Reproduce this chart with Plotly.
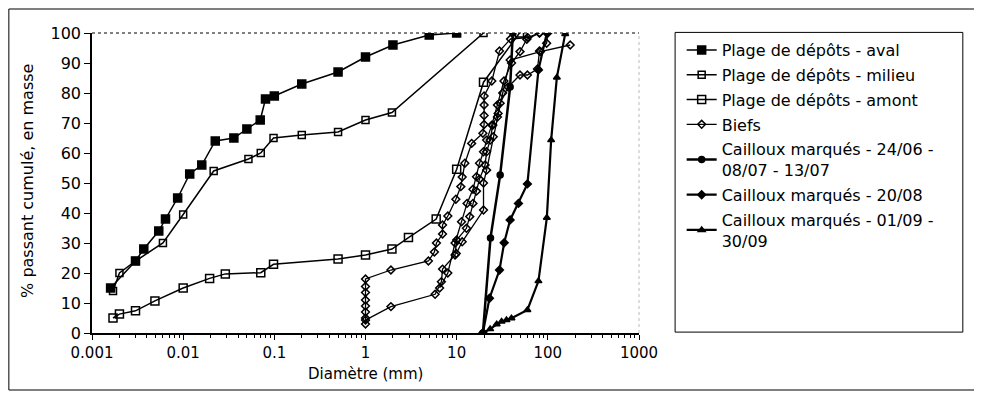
import plotly.graph_objects as go

# granulométrie - plage de dépôts
aval_x = [0.0016, 0.003, 0.0037, 0.0054, 0.0064, 0.0087, 0.0118, 0.016, 0.0225, 0.036,
          0.05, 0.07, 0.08, 0.1, 0.2, 0.5, 1, 2, 5, 10]
aval_y = [15, 24, 28, 34, 38, 45, 53, 56, 64, 65, 68, 71, 78, 79, 83, 87, 92, 96, 99.3, 100]

milieu_x = [0.0017, 0.002, 0.003, 0.006, 0.01, 0.0216, 0.052, 0.071, 0.098, 0.2, 0.5, 1, 1.95, 19.7]
milieu_y = [14, 20, 24, 30, 39.5, 54, 58, 60, 65, 66, 67, 71, 73.5, 100]

amont_x = [0.0017, 0.002, 0.003, 0.0049, 0.01, 0.0195, 0.029, 0.071, 0.098, 0.5, 1, 1.95,
           2.96, 5.96, 10, 19.7, 48.9]
amont_y = [5, 6.3, 7.4, 10.7, 15, 18.2, 19.7, 20.1, 22.9, 24.7, 26, 28, 31.8, 38, 54.6, 83.6, 100]

# biefs : plusieurs échantillons dans une seule série
biefs1_x = [1, 1, 1, 1, 1, 1, 1, 1, 1.9, 4.9, 5.7, 6, 7, 7, 8, 9.8, 11.1, 11.5, 12.3, 14.6,
            19.4, 20, 20, 20, 20, 24.3, 29.5, 39, 60, 81]
biefs1_y = [3, 5, 7, 9, 11, 13.5, 15.5, 18, 21, 24, 27, 30, 33, 36, 39, 44.6, 48.8, 52, 56.6, 63.2,
            66.6, 69.5, 72.5, 76, 79, 84, 94, 98, 98.5, 100]
biefs2_x = [1, 1.9, 5.8, 6.8, 7, 9.6, 10, 12.8, 13.9, 15.1, 16.5, 17.8, 20.5, 21.3, 23.3, 24.9,
            28.5, 30, 36.7, 49.5, 59.7, 77, 81, 97, 100]
biefs2_y = [4.3, 8.8, 12.9, 17.1, 21.3, 26, 31, 34.9, 38.8, 43.2, 47.3, 51.3, 56, 60.4, 64.3, 69.3,
            73.2, 76.6, 82, 86, 86, 88, 94, 96.6, 100]
biefs3_x = [9.9, 11.5, 19.7, 19.7, 21.3, 25.2, 28, 32, 38.6, 82.8, 176]
biefs3_y = [26.5, 30.4, 41, 50, 54.3, 65.4, 72, 80, 91, 93.8, 96]
biefs4_x = [6.5, 8, 9.6, 11.3, 13, 15.1, 16.5, 17.8, 19.7, 21.3, 24.3, 28, 33, 40, 49.5, 58.8, 81]
biefs4_y = [15, 20, 30, 37.1, 43.2, 47.9, 52.1, 56.6, 60.4, 64.3, 69.3, 76, 84, 90, 93.8, 97.9, 100]

# cailloux marqués
c1_x = [19.4, 23.5, 30, 38.6, 41.3]
c1_y = [0, 31.7, 52.7, 82, 100]
c2_x = [19.4, 22.9, 29.5, 33.2, 38.6, 47.6, 59.7, 78.9, 97.5]
c2_y = [0, 11.6, 21, 30.1, 37.7, 43.2, 49.7, 87.7, 100]
c3_x = [19.4, 23.3, 27.5, 31.1, 35.2, 39.9, 59.7, 78.9, 97.5, 108.7, 125.6, 155]
c3_y = [0, 1.3, 2.9, 3.8, 4.3, 4.9, 7.7, 17.3, 38.4, 64.3, 85.2, 99.7]

x_ticks = [0.001, 0.01, 0.1, 1, 10, 100, 1000]
x_ticktext = ["0.001", "0.01", "0.1", "1", "10", "100", "1000"]

biefs_x = biefs1_x + [None] + biefs2_x + [None] + biefs3_x + [None] + biefs4_x
biefs_y = biefs1_y + [None] + biefs2_y + [None] + biefs3_y + [None] + biefs4_y

FONT = "DejaVu Sans, Arial, sans-serif"

series = [
    ("Plage de dépôts - aval", aval_x, aval_y, "square", 8, 1.5),
    ("Plage de dépôts - milieu", milieu_x, milieu_y, "square-open", 7, 1.5),
    ("Plage de dépôts - amont", amont_x, amont_y, "square-open", 8, 1.5),
    ("Biefs", biefs_x, biefs_y, "diamond-open", 6, 1.3),
    ("Cailloux marqués - 24/06 -<br>08/07 - 13/07", c1_x, c1_y, "circle", 6, 2.5),
    ("Cailloux marqués - 20/08", c2_x, c2_y, "diamond", 6, 2.2),
    ("Cailloux marqués - 01/09 -<br>30/09", c3_x, c3_y, "triangle-up", 6, 2.2),
]

fig = go.Figure()
for i, (name, xs, ys, sym, size, lw) in enumerate(series):
    fig.add_trace(go.Scatter(
        x=xs, y=ys, name=name, mode="lines+markers", legendgroup=f"g{i}",
        line=dict(color="black", width=lw),
        marker=dict(symbol=sym, size=size, color="black",
                    line=dict(color="black", width=1.5)),
        connectgaps=False,
    ))

# la page ajoute 8 px de marge autour de la figure
fig.update_layout(
    width=974, height=385,
    margin=dict(l=84, r=343, t=25, b=60),
    paper_bgcolor="white", plot_bgcolor="white",
    font=dict(family=FONT, size=16, color="black"),
    showlegend=True,
    legend=dict(x=1.078, y=1.0, xanchor="left", yanchor="top",
                bgcolor="rgba(0,0,0,0)", borderwidth=0, itemwidth=30,
                tracegroupgap=1, font=dict(family=FONT, size=16)),
    shapes=[
        # cadre de la légende
        dict(type="rect", xref="paper", yref="paper", x0=1.066, x1=1.592, y0=0.003, y1=1.002,
             line=dict(color="black", width=1)),
        # cadre extérieur
        dict(type="rect", xref="paper", yref="paper", x0=-0.152, x1=1.6216, y0=-0.19, y1=1.08,
             line=dict(color="black", width=1)),
        # bords haut / droite de la zone de tracé
        dict(type="line", xref="paper", yref="paper", x0=0, x1=1, y0=1, y1=1,
             line=dict(color="black", width=1, dash="dot")),
        dict(type="line", xref="paper", yref="paper", x0=1, x1=1, y0=0, y1=1,
             line=dict(color="#bbbbbb", width=1, dash="dot")),
    ],
    annotations=[
        dict(text="Diamètre (mm)", xref="paper", yref="paper", x=0.5, y=-0.137,
             xanchor="center", yanchor="middle", showarrow=False, font=dict(size=15)),
        dict(text="% passant cumulé, en masse", xref="paper", yref="paper", x=-0.117, y=0.507,
             xanchor="center", yanchor="middle", textangle=-90, showarrow=False, font=dict(size=16)),
    ],
)
fig.update_xaxes(
    type="log", range=[-3, 3], tickvals=x_ticks, ticktext=x_ticktext,
    showgrid=False, zeroline=False, showline=True, linecolor="black", linewidth=1.5,
    ticks="outside", ticklen=5, tickcolor="black", tickfont=dict(size=15),
    minor=dict(ticks="outside", ticklen=3, tickcolor="black", dtick="D1", showgrid=False),
)
fig.update_yaxes(
    range=[0, 100], dtick=10, showgrid=False, zeroline=False, showline=True,
    linecolor="black", linewidth=1.5, ticks="outside", ticklen=6, tickcolor="black",
    tickfont=dict(size=16),
)

fig.write_html("out.html")
